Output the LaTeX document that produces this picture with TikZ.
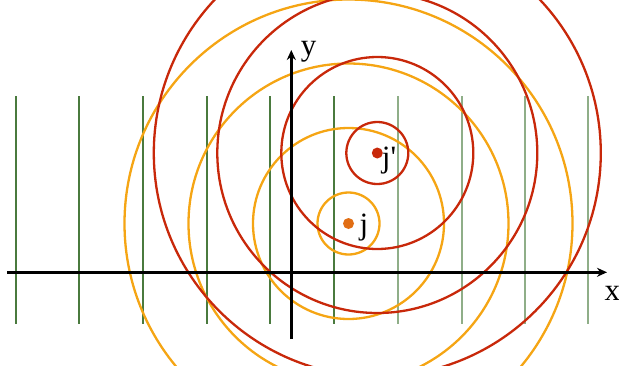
\documentclass[tikz,border=0pt]{standalone}
\usepackage{fontspec}
\setmainfont{Liberation Serif}[Ligatures=TeXOff]
\usetikzlibrary{arrows.meta}
\definecolor{dkgreen}{RGB}{74,122,62}
\definecolor{ltgreen}{RGB}{143,174,136}
\definecolor{wred}{RGB}{200,40,10}
\definecolor{worange}{RGB}{245,165,20}
\definecolor{dotorange}{RGB}{225,110,20}
\begin{document}
\begin{tikzpicture}[x=1pt,y=-1pt,
  wavefront/.style={line width=2.3pt},
  gline/.style={line width=2.2pt},
  axis/.style={line width=2.4pt,-{Stealth[length=10pt,width=9pt]}},
  lbl/.style={font=\fontsize{31}{31}\selectfont,inner sep=0pt},
  src/.style={circle,inner sep=0pt,minimum size=11pt}]
\useasboundingbox (0,0) rectangle (619,365);
\clip (0,0) rectangle (619,365);
% green lines
\foreach \x in {16,79,143,207,270,334}
  \draw[gline,dkgreen] (\x,96) -- (\x,324);
\foreach \x in {398,462,525,588}
  \draw[gline,ltgreen] (\x,96) -- (\x,324);
% sources
\coordinate (J) at (348.5,223.5);
\coordinate (Jp) at (377.3,153);
% circles
\foreach \r in {31,95.5,160,224}
  \draw[wavefront,worange] (J) circle[radius=\r];
\foreach \r in {31,96,160,223.5}
  \draw[wavefront,wred] (Jp) circle[radius=\r];
% axes
\coordinate (xs) at (7,272.3);
\coordinate (xe) at (607,272.3);
\coordinate (ys) at (291.3,339);
\coordinate (ye) at (291.3,50);
\draw[axis] (xs) -- (xe);
\draw[axis] (ys) -- (ye);
\node[lbl] (xl) at (612.3,293.7) {x};
\node[lbl] (yl) at (308.5,51.7) {y};
% dots
\node[src,fill=dotorange] (jd) at (J) {};
\node[src,fill=wred] (jpd) at (Jp) {};
\node[lbl] (jl) at (364,228) {j};
\node[lbl] (jpl) at (389,160.5) {j'};
\end{tikzpicture}
\end{document}
